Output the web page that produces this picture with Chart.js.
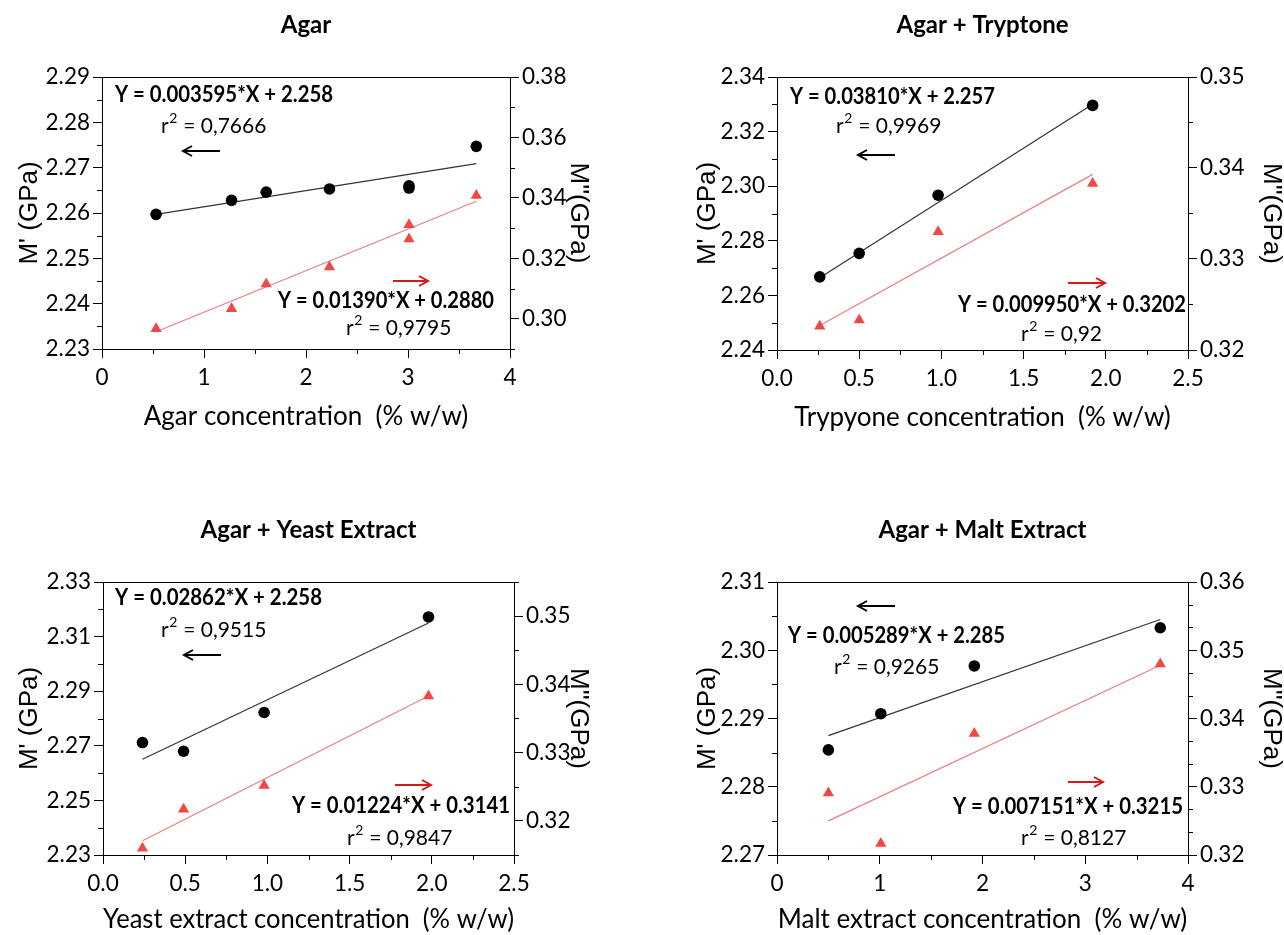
<!DOCTYPE html>
<html><head><meta charset="utf-8">
<script src="https://cdn.jsdelivr.net/npm/chart.js@4.4.1/dist/chart.umd.min.js"></script>
<style>
html,body{margin:0;padding:0;background:#fff;width:1284px;height:935px;overflow:hidden;}
canvas{position:absolute;}
</style></head><body>
<canvas id="c1" width="642" height="467" style="left:0;top:0"></canvas>
<canvas id="c2" width="642" height="467" style="left:642px;top:0"></canvas>
<canvas id="c3" width="642" height="468" style="left:0;top:467px"></canvas>
<canvas id="c4" width="642" height="468" style="left:642px;top:467px"></canvas>
<script>
// ---------- Agar ----------
const agarX = [0.53, 1.27, 1.61, 2.23, 3.01, 3.01, 3.67];
const agarM1 = [2.2597, 2.2628, 2.2646, 2.2653, 2.2655, 2.2660, 2.2747];
const agarM2 = [0.2967, 0.3033, 0.3115, 0.3171, 0.3311, 0.3264, 0.3408];
const agarFitX = [0.53, 3.67];
const agarFitM1 = [2.2597, 2.2709];
const agarFitM2 = [0.2957, 0.3389];
const agarXTicks = [0, 1, 2, 3, 4];
const agarM1Ticks = [2.23, 2.24, 2.25, 2.26, 2.27, 2.28, 2.29];
const agarM2Ticks = [0.30, 0.32, 0.34, 0.36, 0.38];

// ---------- Agar + Tryptone ----------
const tryX = [0.26, 0.50, 0.98, 1.92];
const tryM1 = [2.2668, 2.2754, 2.2967, 2.3296];
const tryM2 = [0.3226, 0.3233, 0.3330, 0.3383];
const tryFitX = [0.26, 1.92];
const tryFitM1 = [2.2665, 2.3300];
const tryFitM2 = [0.3227, 0.3393];
const tryXTicks = [0.0, 0.5, 1.0, 1.5, 2.0, 2.5];
const tryM1Ticks = [2.24, 2.26, 2.28, 2.30, 2.32, 2.34];
const tryM2Ticks = [0.32, 0.33, 0.34, 0.35];

// ---------- Agar + Yeast Extract ----------
const yeastX = [0.24, 0.49, 0.98, 1.98];
const yeastM1 = [2.2712, 2.2680, 2.2822, 2.3172];
const yeastM2 = [0.3160, 0.3217, 0.3252, 0.3383];
const yeastFitX = [0.24, 1.98];
const yeastFitM1 = [2.2651, 2.3150];
const yeastFitM2 = [0.3171, 0.3383];
const yeastXTicks = [0.0, 0.5, 1.0, 1.5, 2.0, 2.5];
const yeastM1Ticks = [2.23, 2.25, 2.27, 2.29, 2.31, 2.33];
const yeastM2Ticks = [0.32, 0.33, 0.34, 0.35];

// ---------- Agar + Malt Extract ----------
const maltX = [0.50, 1.01, 1.92, 3.73];
const maltM1 = [2.2854, 2.2907, 2.2977, 2.3033];
const maltM2 = [0.3291, 0.3217, 0.3378, 0.3480];
const maltFitX = [0.50, 3.73];
const maltFitM1 = [2.2875, 2.3045];
const maltFitM2 = [0.3250, 0.3478];
const maltXTicks = [0, 1, 2, 3, 4];
const maltM1Ticks = [2.27, 2.28, 2.29, 2.30, 2.31];
const maltM2Ticks = [0.32, 0.33, 0.34, 0.35, 0.36];

const RED_PT = 'rgb(240,72,72)';
const RED_FIT = 'rgb(232,128,128)';
const RED_ARROW = 'rgb(214,24,24)';

function pts(xs, ys) { return xs.map((v, i) => ({x: v, y: ys[i]})); }

function linAxis(pos, min, max, majors, dec, size, titleText, titleFont, titlePad) {
  return {
    type: 'linear', position: pos, min: min, max: max,
    afterBuildTicks: s => { s.ticks = majors.map(v => ({value: v})); },
    afterFit: s => { if (pos === 'bottom') s.height = size; else s.width = size; },
    ticks: {autoSkip: false, maxRotation: 0, minRotation: 0, padding: pos === 'bottom' ? 6 : 3, color: '#000',
      font: {family: 'Lato', size: 22.5}, callback: v => Number(v).toFixed(dec)},
    grid: {display: true, drawOnChartArea: false, drawTicks: true, tickLength: 9, tickColor: '#000', tickWidth: 1},
    border: {display: true, color: '#000', width: 1},
    title: {display: true, text: titleText, font: titleFont, color: '#000', padding: titlePad}
  };
}

const deco = {
  id: 'deco',
  afterDraw(chart, args, o) {
    const ctx = chart.ctx, a = chart.chartArea;
    ctx.save();
    // panel title, centred over the plot area
    ctx.fillStyle = '#000';
    ctx.font = 'bold 24px Lato';
    ctx.textAlign = 'center'; ctx.textBaseline = 'middle';
    ctx.fillText(o.title, (a.left + a.right) / 2, o.titleY);
    ctx.strokeStyle = '#000'; ctx.lineWidth = 1;
    ctx.beginPath(); ctx.moveTo(a.left, Math.round(a.top) + 0.5); ctx.lineTo(a.right, Math.round(a.top) + 0.5); ctx.stroke();
    // minor ticks
    for (const id of ['x', 'yL', 'yR']) {
      const s = chart.scales[id];
      const m = o.minor[id];
      const majors = m.majors;
      const step = (majors[1] - majors[0]) / m.sub;
      const vals = [];
      let v = majors[0];
      while (v - step >= s.min - 1e-9) v -= step;
      for (; v <= s.max + 1e-9; v += step) {
        if (majors.some(M => Math.abs(M - v) < step * 0.1)) continue;
        vals.push(v);
      }
      ctx.beginPath();
      for (const val of vals) {
        const p = Math.round(s.getPixelForValue(val)) + 0.5;
        if (id === 'x') { ctx.moveTo(p, a.bottom); ctx.lineTo(p, a.bottom + 5); }
        else if (id === 'yL') { ctx.moveTo(a.left - 5, p); ctx.lineTo(a.left, p); }
        else { ctx.moveTo(a.right, p); ctx.lineTo(a.right + 5, p); }
      }
      ctx.stroke();
    }
    // annotations
    ctx.textBaseline = 'middle'; ctx.textAlign = 'left';
    for (const t of o.texts) {
      if (t.k === 'eq') {
        ctx.fillStyle = '#000';
        ctx.font = 'bold 22px Lato';
        ctx.fillText(t.s, t.x, t.y, t.w);
      } else if (t.k === 'r2') {
        ctx.fillStyle = '#000';
        ctx.font = '21px Lato';
        ctx.fillText('r', t.x, t.y);
        const rw = ctx.measureText('r').width;
        ctx.font = '14px Lato';
        ctx.fillText('2', t.x + rw + 0.5, t.y - 8);
        const w2 = ctx.measureText('2').width;
        ctx.font = '21px Lato';
        ctx.fillText(' = ' + t.s, t.x + rw + w2 + 1, t.y);
      } else if (t.k === 'arrow') {
        ctx.strokeStyle = t.c; ctx.lineWidth = 2;
        ctx.beginPath();
        ctx.moveTo(t.x1, t.y); ctx.lineTo(t.x2, t.y);
        if (t.dir < 0) { ctx.moveTo(t.x1 + 9, t.y - 5); ctx.lineTo(t.x1, t.y); ctx.lineTo(t.x1 + 9, t.y + 5); }
        else { ctx.moveTo(t.x2 - 9, t.y - 5); ctx.lineTo(t.x2, t.y); ctx.lineTo(t.x2 - 9, t.y + 5); }
        ctx.stroke();
      }
    }
    ctx.restore();
  }
};

function build(id, P) {
  const yTitleFont = {family: 'Liberation Sans', size: 26, lineHeight: 1};
  const xTitleFont = {family: 'Lato', size: 26, lineHeight: 1.2};
  return new Chart(document.getElementById(id), {
    type: 'scatter',
    data: {
      datasets: [
        {label: "M'", data: pts(P.x, P.m1), yAxisID: 'yL', pointStyle: 'circle', pointRadius: 5.8,
         backgroundColor: '#000', borderColor: '#000', borderWidth: 0, showLine: false, clip: false},
        {label: "M''", data: pts(P.x, P.m2), yAxisID: 'yR', pointStyle: 'triangle', pointRadius: 6.5,
         backgroundColor: RED_PT, borderColor: RED_PT, borderWidth: 0, showLine: false, clip: false},
        {label: "M' fit", data: pts(P.fx, P.f1), yAxisID: 'yL', showLine: true, pointRadius: 0,
         borderColor: '#333', borderWidth: 1.2, clip: false},
        {label: "M'' fit", data: pts(P.fx, P.f2), yAxisID: 'yR', showLine: true, pointRadius: 0,
         borderColor: RED_FIT, borderWidth: 1.2, clip: false}
      ]
    },
    options: {
      responsive: false, animation: false, devicePixelRatio: 1,
      layout: {padding: {top: P.top, left: 0, right: 0, bottom: 0}},
      plugins: {
        legend: {display: false}, tooltip: {enabled: false}, title: {display: false},
        deco: {title: P.title, titleY: P.titleY, minor: P.minor, texts: P.texts}
      },
      scales: {
        x: linAxis('bottom', P.xmin, P.xmax, P.xt, P.xdec, P.xh, P.xtitle, xTitleFont, {top: 0, bottom: P.xtpad}),
        yL: linAxis('left', P.y1min, P.y1max, P.y1t, P.y1dec, P.wl, "M' (GPa)", yTitleFont, {top: P.ltpad, bottom: 0}),
        yR: linAxis('right', P.y2min, P.y2max, P.y2t, P.y2dec, P.wr, "M''(GPa)", yTitleFont, {top: P.rtpad, bottom: 0})
      }
    },
    plugins: [deco]
  });
}

build('c1', {
  title: 'Agar', titleY: 25.5, top: 77,
  x: agarX, m1: agarM1, m2: agarM2, fx: agarFitX, f1: agarFitM1, f2: agarFitM2,
  xmin: 0, xmax: 4, xt: agarXTicks, xdec: 0, xh: 118, xtitle: 'Agar concentration  (% w/w)', xtpad: 34.4,
  y1min: 2.23, y1max: 2.29, y1t: agarM1Ticks, y1dec: 2, wl: 102, ltpad: 17,
  y2min: 0.29, y2max: 0.38, y2t: agarM2Ticks, y2dec: 2, wr: 132, rtpad: 51,
  minor: {x: {majors: agarXTicks, sub: 2}, yL: {majors: agarM1Ticks, sub: 2}, yR: {majors: agarM2Ticks, sub: 2}},
  texts: [
    {k: 'eq', s: 'Y = 0.003595*X + 2.258', x: 115, y: 95, w: 218},
    {k: 'r2', s: '0,7666', x: 161, y: 126},
    {k: 'arrow', x1: 183, x2: 220, y: 151, dir: -1, c: '#000'},
    {k: 'arrow', x1: 393, x2: 428, y: 281, dir: 1, c: RED_ARROW},
    {k: 'eq', s: 'Y = 0.01390*X + 0.2880', x: 278, y: 301, w: 216},
    {k: 'r2', s: '0,9795', x: 346, y: 328}
  ]
});

build('c2', {
  title: 'Agar + Tryptone', titleY: 25.5, top: 77,
  x: tryX, m1: tryM1, m2: tryM2, fx: tryFitX, f1: tryFitM1, f2: tryFitM2,
  xmin: 0, xmax: 2.5, xt: tryXTicks, xdec: 1, xh: 117, xtitle: 'Trypyone concentration  (% w/w)', xtpad: 33.4,
  y1min: 2.24, y1max: 2.34, y1t: tryM1Ticks, y1dec: 2, wl: 135, ltpad: 53,
  y2min: 0.32, y2max: 0.35, y2t: tryM2Ticks, y2dec: 2, wr: 96, rtpad: 0,
  minor: {x: {majors: tryXTicks, sub: 2}, yL: {majors: tryM1Ticks, sub: 2}, yR: {majors: tryM2Ticks, sub: 2}},
  texts: [
    {k: 'eq', s: 'Y = 0.03810*X + 2.257', x: 148, y: 97, w: 205},
    {k: 'r2', s: '0,9969', x: 194, y: 126},
    {k: 'arrow', x1: 216, x2: 253, y: 155, dir: -1, c: '#000'},
    {k: 'arrow', x1: 426, x2: 463, y: 283, dir: 1, c: RED_ARROW},
    {k: 'eq', s: 'Y = 0.009950*X + 0.3202', x: 316, y: 305, w: 228},
    {k: 'r2', s: '0,92', x: 379, y: 334}
  ]
});

build('c3', {
  title: 'Agar + Yeast Extract', titleY: 63.5, top: 115,
  x: yeastX, m1: yeastM1, m2: yeastM2, fx: yeastFitX, f1: yeastFitM1, f2: yeastFitM2,
  xmin: 0, xmax: 2.5, xt: yeastXTicks, xdec: 1, xh: 80, xtitle: 'Yeast extract concentration  (% w/w)', xtpad: 0,
  y1min: 2.23, y1max: 2.33, y1t: yeastM1Ticks, y1dec: 2, wl: 103, ltpad: 17,
  y2min: 0.315, y2max: 0.355, y2t: yeastM2Ticks, y2dec: 2, wr: 128, rtpad: 51,
  minor: {x: {majors: yeastXTicks, sub: 2}, yL: {majors: yeastM1Ticks, sub: 2}, yR: {majors: yeastM2Ticks, sub: 2}},
  texts: [
    {k: 'eq', s: 'Y = 0.02862*X + 2.258', x: 115, y: 131, w: 207},
    {k: 'r2', s: '0,9515', x: 161, y: 163},
    {k: 'arrow', x1: 184, x2: 221, y: 188, dir: -1, c: '#000'},
    {k: 'arrow', x1: 395, x2: 431, y: 318, dir: 1, c: RED_ARROW},
    {k: 'eq', s: 'Y = 0.01224*X + 0.3141', x: 292, y: 339, w: 218},
    {k: 'r2', s: '0,9847', x: 347, y: 371}
  ]
});

build('c4', {
  title: 'Agar + Malt Extract', titleY: 63.5, top: 115,
  x: maltX, m1: maltM1, m2: maltM2, fx: maltFitX, f1: maltFitM1, f2: maltFitM2,
  xmin: 0, xmax: 4, xt: maltXTicks, xdec: 0, xh: 80, xtitle: 'Malt extract concentration  (% w/w)', xtpad: 0,
  y1min: 2.27, y1max: 2.31, y1t: maltM1Ticks, y1dec: 2, wl: 135, ltpad: 53,
  y2min: 0.32, y2max: 0.36, y2t: maltM2Ticks, y2dec: 2, wr: 96, rtpad: 0,
  minor: {x: {majors: maltXTicks, sub: 2}, yL: {majors: maltM1Ticks, sub: 2}, yR: {majors: maltM2Ticks, sub: 3}},
  texts: [
    {k: 'arrow', x1: 216, x2: 253, y: 139, dir: -1, c: '#000'},
    {k: 'eq', s: 'Y = 0.005289*X + 2.285', x: 146, y: 169, w: 217},
    {k: 'r2', s: '0,9265', x: 192, y: 200},
    {k: 'arrow', x1: 426, x2: 461, y: 315, dir: 1, c: RED_ARROW},
    {k: 'eq', s: 'Y = 0.007151*X + 0.3215', x: 311, y: 340, w: 230},
    {k: 'r2', s: '0,8127', x: 379, y: 371}
  ]
});
</script>
</body></html>
